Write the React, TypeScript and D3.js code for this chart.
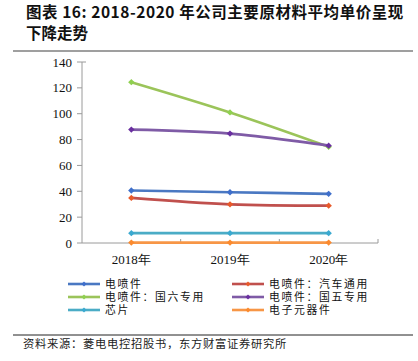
import React from "react";
import * as d3 from "d3";

const years = ["2018年", "2019年", "2020年"];
const yTicks = [0, 20, 40, 60, 80, 100, 120, 140];

const sNames = ["电喷件", "电喷件：汽车通用", "电喷件：国六专用", "电喷件：国五专用", "芯片", "电子元器件"];
const vDianPen = [40.6, 39.3, 38.0];
const vQiChe = [34.9, 29.9, 28.9];
const vGuoLiu = [124.4, 101.0, 74.4];
const vGuoWu = [87.7, 84.6, 75.3];
const vXinPian = [7.6, 7.6, 7.6];
const vYuanQiJian = [0.3, 0.3, 0.3];
const sValues = [vDianPen, vQiChe, vGuoLiu, vGuoWu, vXinPian, vYuanQiJian];
const lineColors = ["#4a78c2", "#c0504d", "#9bc45a", "#7f5ba6", "#4bacc6", "#f79646"];
const markColors = ["#3f6fcb", "#e85a2a", "#8fd050", "#6a2fa0", "#3aa9d0", "#fb8a2e"];

export default function App() {
  const W = 418, H = 361;
  const x0 = 82, x1 = 378, yTop = 62, yBot = 243;
  const x = d3.scaleBand<string>().domain(years).range([x0, x1]);
  const y = d3.scaleLinear().domain([0, 140]).range([yBot, yTop]);
  const line = d3.line<number>()
    .x((_, i) => (x(years[i]) as number) + x.bandwidth() / 2)
    .y((d) => y(d))
    .curve(d3.curveCatmullRom.alpha(0.5));
  const axisColor = "#9a9a9a";
  const serif = "'Liberation Serif', 'DejaVu Serif', serif";
  const cjk = "'Noto Sans CJK SC', sans-serif";
  const cjkTight = "'Liberation Serif', 'Noto Sans CJK SC', sans-serif";
  const legendPos = sNames.map((_, i) => ({
    lx: i % 2 === 0 ? 68 : 232,
    ly: 284 + Math.floor(i / 2) * 13,
  }));
  const diamond = (cx: number, cy: number, r: number) =>
    `M${cx},${cy - r}L${cx + r},${cy}L${cx},${cy + r}L${cx - r},${cy}Z`;

  return (
    <svg width={W} height={H} style={{ position: "absolute", left: 0, top: 0 }}>
      <rect width={W} height={H} fill="#fff" />
      <text x={26} y={18} fontSize={15.5} fontWeight="bold" letterSpacing={0.55} fill="#111" fontFamily={cjk}>
        图表 16: 2018-2020 年公司主要原材料平均单价呈现
      </text>
      <text x={26} y={39} fontSize={15.5} fontWeight="bold" fill="#111" fontFamily={cjk}>
        下降走势
      </text>
      <line x1={13} x2={413} y1={51} y2={51} stroke="#7f7f7f" strokeWidth={1.5} />

      {/* y axis */}
      <line x1={x0} x2={x0} y1={yTop} y2={yBot} stroke={axisColor} strokeWidth={1} />
      <line x1={x0} x2={x0 + 4} y1={yTop} y2={yTop} stroke={axisColor} strokeWidth={1} />
      {yTicks.map((t) => (
        <g key={t}>
          <line x1={x0 - 5} x2={x0} y1={y(t)} y2={y(t)} stroke={axisColor} strokeWidth={1} />
          <text x={72} y={y(t)} dy="0.35em" textAnchor="end" fontSize={13} fontFamily={serif} fill="#111">
            {t}
          </text>
        </g>
      ))}
      {/* x axis */}
      <line x1={x0} x2={x1} y1={yBot} y2={yBot} stroke={axisColor} strokeWidth={1} />
      {years.map((yr) => (
        <g key={yr}>
          <line
            x1={(x(yr) as number) + x.bandwidth()}
            x2={(x(yr) as number) + x.bandwidth()}
            y1={yBot}
            y2={yBot - 4}
            stroke={axisColor}
          />
          <text
            x={(x(yr) as number) + x.bandwidth() / 2}
            y={264}
            textAnchor="middle"
            fontSize={13}
            fontFamily={serif}
            fill="#111"
          >
            {yr}
          </text>
        </g>
      ))}

      {sValues.map((vals, si) => (
        <g key={si}>
          <path d={line(vals) || ""} fill="none" stroke={lineColors[si]} strokeWidth={2.6} />
          {vals.map((v, i) => (
            <path
              key={i}
              d={diamond((x(years[i]) as number) + x.bandwidth() / 2, y(v), 3.2)}
              fill={markColors[si]}
            />
          ))}
        </g>
      ))}

      {sNames.map((n, i) => (
        <g key={n}>
          <line x1={legendPos[i].lx} x2={legendPos[i].lx + 32} y1={legendPos[i].ly} y2={legendPos[i].ly} stroke={lineColors[i]} strokeWidth={2.6} />
          <path d={diamond(legendPos[i].lx + 16, legendPos[i].ly, 2.6)} fill={markColors[i]} />
          <text x={legendPos[i].lx + 37} y={legendPos[i].ly + 4.2} fontSize={10.8} letterSpacing={1.7} fontFamily={cjkTight} fill="#111">
            {n}
          </text>
        </g>
      ))}

      <line x1={13} x2={413} y1={335} y2={335} stroke="#222" strokeWidth={1} />
      <text x={23} y={344} dy="0.35em" fontSize={11.3} letterSpacing={0.7} fontFamily={cjk} fill="#222">
        资料来源：菱电电控招股书，东方财富证券研究所
      </text>
    </svg>
  );
}
